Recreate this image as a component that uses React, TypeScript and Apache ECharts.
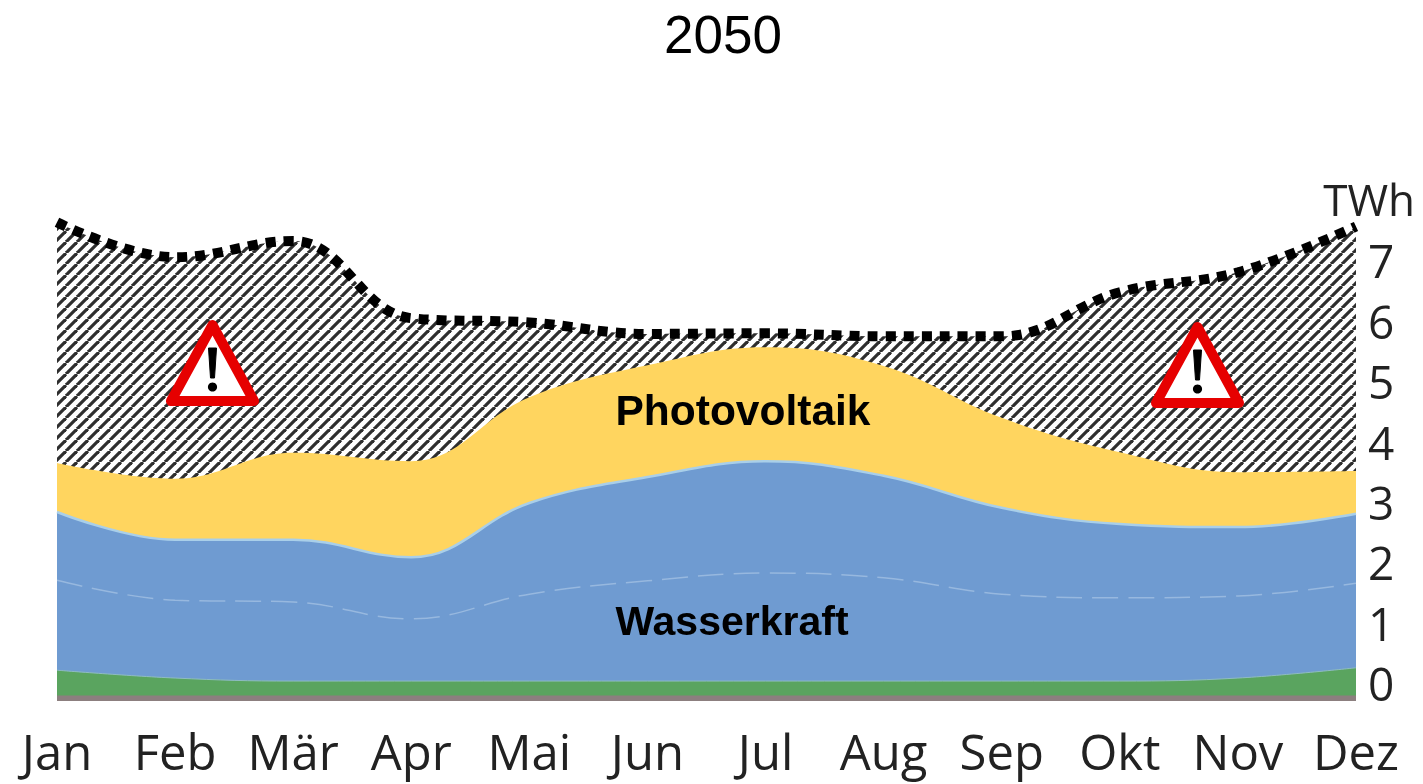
import React, { useEffect, useRef } from "react";
import * as echarts from "echarts";

const months = ["Jan", "Feb", "Mär", "Apr", "Mai", "Jun", "Jul", "Aug", "Sep", "Okt", "Nov", "Dez"];
const demand = [7.93, 7.35, 7.62, 6.34, 6.27, 6.08, 6.09, 6.04, 6.04, 6.77, 7.1, 7.86];
const photovoltaik = [3.94, 3.68, 4.11, 3.97, 5.03, 5.56, 5.86, 5.55, 4.69, 4.12, 3.79, 3.81];
const wasserkraftTop = [3.13, 2.67, 2.67, 2.38, 3.28, 3.71, 3.97, 3.73, 3.2, 2.93, 2.88, 3.1];
const wasserkraftMid = [2.0, 1.67, 1.64, 1.36, 1.77, 1.99, 2.12, 2.04, 1.77, 1.71, 1.74, 1.95];
const green = [0.51, 0.38, 0.33, 0.33, 0.33, 0.33, 0.33, 0.33, 0.33, 0.33, 0.38, 0.55];
const grey = [0.09, 0.09, 0.09, 0.09, 0.09, 0.09, 0.09, 0.09, 0.09, 0.09, 0.09, 0.09];

function hatchTile() {
  const s = 11;
  const c = document.createElement("canvas");
  c.width = s;
  c.height = s;
  const g = c.getContext("2d")!;
  g.fillStyle = "#ffffff";
  g.fillRect(0, 0, s, s);
  g.strokeStyle = "#2e2e2e";
  g.lineWidth = 3.2;
  for (let i = -s; i <= 2 * s; i += s) {
    g.beginPath();
    g.moveTo(i, s);
    g.lineTo(i + s, 0);
    g.stroke();
  }
  return c;
}

function warning(dx: number, dy: number) {
  return {
    type: "group",
    x: dx,
    y: dy,
    silent: true,
    children: [
      { type: "polygon", z: 50, shape: { points: [[45.5, 3], [4, 79], [87, 79]] }, style: { fill: "#fff", stroke: "#e60000", lineWidth: 10, lineJoin: "round" } },
      { type: "polygon", z: 51, shape: { points: [[41.5, 26], [49.5, 26], [47.5, 56], [43.5, 56]] }, style: { fill: "#000", stroke: "#000", lineWidth: 1, lineJoin: "round" } },
      { type: "circle", z: 51, shape: { cx: 45.5, cy: 65, r: 4.6 }, style: { fill: "#000" } },
    ],
  };
}

export default function App() {
  const ref = useRef<HTMLDivElement>(null);
  useEffect(() => {
    const chart = echarts.init(ref.current!, undefined, { renderer: "svg" });
    const area = (name: string, data: number[], fill: any, line: any, z: number) => ({
      name,
      type: "line",
      data,
      z,
      smooth: 0.4,
      symbol: "none",
      lineStyle: line,
      areaStyle: { color: fill, opacity: 1, origin: "start" },
    });
    chart.setOption({
      animation: false,
      title: {
        text: "2050",
        left: 718,
        top: 3,
        textAlign: "center",
        textStyle: { fontFamily: "Liberation Sans", fontSize: 53, fontWeight: "normal", color: "#000" },
      },
      grid: { left: 57, right: 67, top: 218, bottom: 83 },
      xAxis: {
        type: "category",
        data: months,
        boundaryGap: false,
        axisLine: { show: false },
        axisTick: { show: false },
        splitLine: { show: false },
        axisLabel: { interval: 0, fontFamily: "Open Sans", fontSize: 49, color: "#222", margin: 25, hideOverlap: false, showMinLabel: true, showMaxLabel: true },
      },
      yAxis: {
        type: "value",
        position: "right",
        min: 0,
        max: 8,
        interval: 1,
        name: "TWh",
        nameLocation: "end",
        nameGap: -3,
        nameTextStyle: { fontFamily: "Open Sans", fontSize: 44, color: "#222", align: "right", padding: [0, -59, 0, 0] },
        axisLine: { show: false },
        axisTick: { show: false },
        splitLine: { show: false },
        axisLabel: {
          fontFamily: "Open Sans",
          fontSize: 46,
          color: "#222",
          margin: 12,
          verticalAlign: "bottom",
          lineHeight: 36,
          formatter: (v: number) => (v === 8 ? "" : String(v)),
        },
      },
      graphic: [
        warning(167, 322),
        warning(1152, 324),
        { type: "text", x: 743, y: 410, silent: true, z: 50, style: { text: "Photovoltaik", fontFamily: "Liberation Sans", fontWeight: "bold", fontSize: 42.5, fill: "#000", align: "center", verticalAlign: "middle" } },
        { type: "text", x: 732, y: 621, silent: true, z: 50, style: { text: "Wasserkraft", fontFamily: "Liberation Sans", fontWeight: "bold", fontSize: 41, fill: "#000", align: "center", verticalAlign: "middle" } },
      ],
      series: [
        area("Bedarf", demand, { image: hatchTile(), repeat: "repeat" }, { color: "#000", width: 10, type: [10, 8] }, 2),
        area("Photovoltaik", photovoltaik, "#ffd55f", { width: 0 }, 3),
        area("Wasserkraft", wasserkraftTop, "#6f9bd1", { color: "#a9cfe9", width: 2.5 }, 4),
        {
          name: "Wasserkraft Laufwasser",
          type: "line",
          data: wasserkraftMid,
          z: 5,
          smooth: 0.4,
          symbol: "none",
          lineStyle: { color: "rgba(200,220,240,0.45)", width: 1.5, type: [26, 10] },
        },
        area("Biomasse", green, "#5aa45f", { color: "#8fbcc0", width: 1 }, 6),
        area("Sonstige", grey, "#8c7f7f", { width: 0 }, 7),
      ],
    });
    return () => chart.dispose();
  }, []);
  return <div ref={ref} style={{ position: "fixed", left: 0, top: 0, width: 1423, height: 784 }} />;
}
